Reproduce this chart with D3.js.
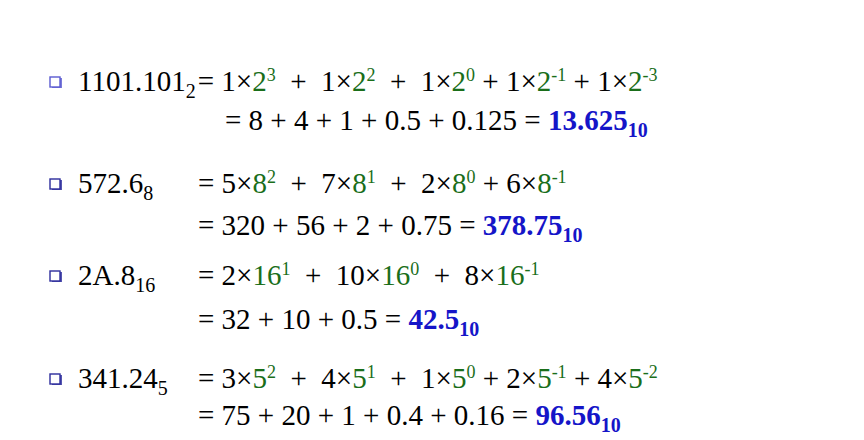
<!DOCTYPE html>
<html><head><meta charset="utf-8">
<script src="https://cdn.jsdelivr.net/npm/d3@7"></script>
<style>body{margin:0;background:#fff} text{white-space:pre}</style>
</head><body><div id="slide"></div>
<script>
const W = 864, H = 440;

// numbers in each base and their expansions
const labels = ["1101.101", "572.6", "2A.8", "341.24"];
const bases = ["2", "8", "16", "5"];
const terms = [
    [[1, 2, "3"], [1, 2, "2"], [1, 2, "0"], [1, 2, "-1"], [1, 2, "-3"]],
    [[5, 8, "2"], [7, 8, "1"], [2, 8, "0"], [6, 8, "-1"]],
    [[2, 16, "1"], [10, 16, "0"], [8, 16, "-1"]],
    [[3, 5, "2"], [4, 5, "1"], [1, 5, "0"], [2, 5, "-1"], [4, 5, "-2"]]
];
const sums = ["8 + 4 + 1 + 0.5 + 0.125", "320 + 56 + 2 + 0.75", "32 + 10 + 0.5", "75 + 20 + 1 + 0.4 + 0.16"];
const results = ["13.625", "378.75", "42.5", "96.56"];

const line1Y = [91, 193, 285, 388];
const line2Y = [130, 235, 329, 425];
const eqX = [null, 198, 198, 198];
const eq2X = [225, 198, 198, 198];
const fs = 29;

const green = "#1a6e1a", blue = "#1515c8";

const svg = d3.select("#slide").append("svg")
    .attr("width", W).attr("height", H)
    .attr("font-family", "Liberation Serif, DejaVu Serif, serif");

const runs = (text, parts) => {
    let shift = 0;
    parts.forEach(p => {
        const t = text.append("tspan").text(p.t);
        let target = 0;
        if (p.sup) target = -10;
        if (p.sub) target = 7;
        if (target !== shift) t.attr("dy", target - shift);
        shift = target;
        if (p.sup) t.attr("font-size", 18);
        if (p.sub) t.attr("font-size", 20);
        if (p.fill) t.attr("fill", p.fill);
        if (p.bold) t.attr("font-weight", "bold");
    });
};

labels.forEach((lab, i) => {
    const bulletColor = i === 0 ? "#5a5ad0" : "#2c2c9c";
    const by = line1Y[i] - 14;
    svg.append("rect").attr("x", 52).attr("y", by + 1).attr("width", 10).attr("height", 10)
        .attr("fill", bulletColor).attr("opacity", 0.8);
    svg.append("rect").attr("x", 50).attr("y", by).attr("width", 10).attr("height", 10)
        .attr("fill", "#fff").attr("stroke", bulletColor).attr("stroke-width", 1.4);

    const t1 = svg.append("text").attr("x", 78).attr("y", line1Y[i]).attr("font-size", fs).attr("fill", "#000");
    runs(t1, [{ t: lab }, { t: bases[i], sub: true }]);

    const expr = [];
    terms[i].forEach((d, k) => {
        const pre = k === 0 ? "= " : (k < 3 ? "  +  " : " + ");
        expr.push({ t: pre + d[0] + "×" });
        expr.push({ t: String(d[1]), fill: green });
        expr.push({ t: d[2], sup: true, fill: green });
    });
    const t2 = svg.append("text").attr("y", line1Y[i]).attr("font-size", fs).attr("fill", "#000");
    if (eqX[i] === null) t2.attr("x", t1.node().getComputedTextLength() + 80);
    else t2.attr("x", eqX[i]);
    runs(t2, expr);

    const t3 = svg.append("text").attr("x", eq2X[i]).attr("y", line2Y[i]).attr("font-size", fs).attr("fill", "#000");
    runs(t3, [{ t: "= " + sums[i] + " = " }, { t: results[i], fill: blue, bold: true },
        { t: "10", sub: true, fill: blue, bold: true }]);
});
</script></body></html>
